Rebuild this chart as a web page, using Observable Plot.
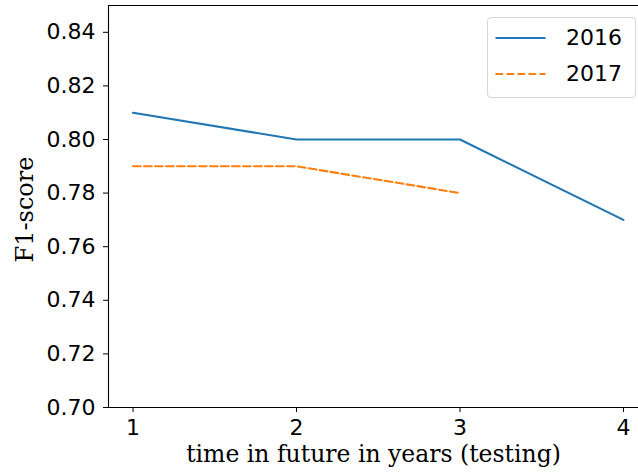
<!DOCTYPE html>
<html>
<head>
<meta charset="utf-8">
<script src="https://cdn.jsdelivr.net/npm/d3@7"></script>
<script src="https://cdn.jsdelivr.net/npm/@observablehq/plot@0.6"></script>
<style>
  html, body { margin: 0; padding: 0; background: #fff; overflow: hidden; }
  #wrap { position: relative; width: 638px; height: 475px; }
  #legend {
    position: absolute; left: 487px; top: 17px; width: 149px; height: 81px;
    border: 1px solid #d6d6d6; border-radius: 4px; background: rgba(255,255,255,0.8);
    box-sizing: border-box; font-family: "DejaVu Sans", sans-serif; font-size: 22px; color: #000;
  }
  .item { position: absolute; left: 7px; height: 26px; display: flex; align-items: center; }
  .item svg { margin-right: 20px; }
</style>
</head>
<body>
<div id="wrap"></div>
<script>
const years = [1, 2, 3, 4];
const series2016 = [0.81, 0.80, 0.80, 0.77];
const series2017 = [0.79, 0.79, 0.78];
const seriesNames = ["2016", "2017"];
const seriesColors = ["#1f77b4", "#ff7f0e"];
const yTicks = [0.70, 0.72, 0.74, 0.76, 0.78, 0.80, 0.82, 0.84];

const d2016 = series2016.map((v, i) => ({x: years[i], y: v}));
const d2017 = series2017.map((v, i) => ({x: years[i], y: v}));

const xDomain = [0.85, 4.092];
const yDomain = [0.70, 0.85];

const chart = Plot.plot({
  width: 638,
  height: 475,
  marginTop: 5,
  marginBottom: 68,
  marginLeft: 108,
  marginRight: 0,
  style: {fontFamily: "DejaVu Sans, sans-serif", fontSize: "22px", color: "#000", background: "#fff"},
  x: {domain: xDomain, label: null},
  y: {domain: yDomain, label: null},
  marks: [
    Plot.axisX({ticks: years, tickFormat: d => String(d), tickSize: 5, tickPadding: 7, label: null, fontSize: 22, stroke: "#000", strokeWidth: 1}),
    Plot.axisY({ticks: yTicks, tickFormat: d3.format(".2f"), tickSize: 5, tickPadding: 8, label: null, fontSize: 22, stroke: "#000", strokeWidth: 1}),
    Plot.ruleX([xDomain[0]], {stroke: "#000", strokeWidth: 1.1}),
    Plot.ruleY([yDomain[0]], {stroke: "#000", strokeWidth: 1.1}),
    Plot.ruleY([yDomain[1]], {stroke: "#000", strokeWidth: 1.1}),
    Plot.line(d2016, {x: "x", y: "y", stroke: seriesColors[0], strokeWidth: 2.1}),
    Plot.line(d2017, {x: "x", y: "y", stroke: seriesColors[1], strokeWidth: 2.1, strokeDasharray: "7.7,3.3"}),
    Plot.text(["time in future in years (testing)"], {frameAnchor: "bottom", dy: 54, fontFamily: "DejaVu Serif, serif", fontSize: 23.5, fill: "#000"}),
    Plot.text(["F1-score"], {frameAnchor: "left", textAnchor: "middle", dx: -83.5, dy: 3, rotate: -90, fontFamily: "DejaVu Serif, serif", fontSize: 24, fill: "#000"})
  ]
});
document.getElementById("wrap").appendChild(chart);

const legend = document.createElement("div");
legend.id = "legend";
seriesNames.forEach((name, i) => {
  const item = document.createElement("div");
  item.className = "item";
  item.style.top = (6.5 + i * 36) + "px";
  const dash = i === 1 ? 'stroke-dasharray="7.7,3.3"' : '';
  item.innerHTML = `<svg width="51" height="10"><line x1="0.5" y1="5" x2="50.5" y2="5" stroke="${seriesColors[i]}" stroke-width="2.1" ${dash}/></svg><span>${name}</span>`;
  legend.appendChild(item);
});
document.getElementById("wrap").appendChild(legend);
</script>
</body>
</html>
